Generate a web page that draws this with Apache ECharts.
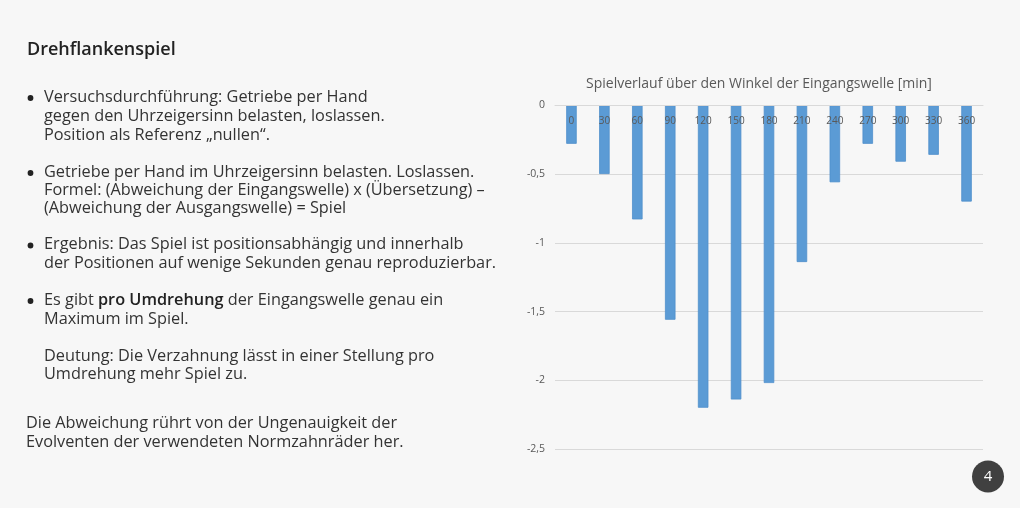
<!DOCTYPE html>
<html>
<head>
<meta charset="utf-8">
<script src="https://cdn.jsdelivr.net/npm/echarts@6/dist/echarts.min.js"></script>
<style>
html,body{margin:0;padding:0;background:#f7f7f7;}
#c{width:1020px;height:508px;}
</style>
</head>
<body>
<div id="c"></div>
<script>
const categories = ['0','30','60','90','120','150','180','210','240','270','300','330','360'];
const spiel = [-0.28, -0.50, -0.83, -1.56, -2.20, -2.14, -2.02, -1.14, -0.56, -0.28, -0.41, -0.36, -0.70];
const yTicks = { min: -2.5, max: 0, interval: 0.5 };
const chartTitle = 'Spielverlauf über den Winkel der Eingangswelle [min]';

const FONT = '"Open Sans", "DejaVu Sans", sans-serif';
const bodyColor = '#333333';
const BODY_SIZE = 16.3;

function line(x, y, text) {
  return {
    type: 'text', x: x, y: y,
    style: { text: text, fill: bodyColor, font: BODY_SIZE + 'px ' + FONT, verticalAlign: 'middle', align: 'left' }
  };
}
function bullet(y) {
  return { type: 'circle', shape: { cx: 30.5, cy: y + 1, r: 2.9 }, style: { fill: '#222' } };
}

const graphics = [
  { type: 'text', x: 27, y: 49.5, style: { text: 'Drehflankenspiel', fill: '#222', font: '600 18px ' + FONT, verticalAlign: 'middle' } },
  bullet(97), line(44, 97, 'Versuchsdurchführung: Getriebe per Hand'),
  line(44, 116, 'gegen den Uhrzeigersinn belasten, loslassen.'),
  line(44, 135, 'Position als Referenz „nullen“.'),
  bullet(172), line(44, 172, 'Getriebe per Hand im Uhrzeigersinn belasten. Loslassen.'),
  line(44, 190, 'Formel: (Abweichung der Eingangswelle) x (Übersetzung) –'),
  line(44, 208.5, '(Abweichung der Ausgangswelle) = Spiel'),
  bullet(244.5), line(44, 244.5, 'Ergebnis: Das Spiel ist positionsabhängig und innerhalb'),
  line(44, 263.5, 'der Positionen auf wenige Sekunden genau reproduzierbar.'),
  bullet(300), {
    type: 'text', x: 44, y: 300,
    style: {
      text: 'Es gibt {b|pro Umdrehung} der Eingangswelle genau ein',
      fill: bodyColor, font: BODY_SIZE + 'px ' + FONT, verticalAlign: 'middle',
      rich: { b: { fontWeight: 600, fontSize: BODY_SIZE, fontFamily: FONT, fill: '#222' } }
    }
  },
  line(44, 319, 'Maximum im Spiel.'),
  line(44, 356, 'Deutung: Die Verzahnung lässt in einer Stellung pro'),
  line(44, 374.5, 'Umdrehung mehr Spiel zu.'),
  line(26, 423.5, 'Die Abweichung rührt von der Ungenauigkeit der'),
  line(26, 442.5, 'Evolventen der verwendeten Normzahnräder her.'),
  { type: 'circle', shape: { cx: 988, cy: 476.5, r: 16 }, style: { fill: '#404040' } },
  { type: 'text', x: 988, y: 476.5, style: { text: '4', fill: '#ffffff', font: '15px ' + FONT, align: 'center', verticalAlign: 'middle' } }
];

const chart = echarts.init(document.getElementById('c'), null, { renderer: 'canvas' });
chart.setOption({
  backgroundColor: '#f7f7f7',
  animation: false,
  title: {
    text: chartTitle, left: 754, top: 72, textAlign: 'center',
    textStyle: { fontFamily: FONT, fontSize: 14, fontWeight: 'normal', color: '#595959' }
  },
  grid: { left: 555, right: 37, top: 105.3, bottom: 59 },
  xAxis: {
    type: 'category', data: categories, position: 'top', z: 5,
    axisLine: { show: true, onZero: false, lineStyle: { color: '#d9d9d9', width: 1 } },
    axisTick: { show: false },
    axisLabel: { inside: true, color: '#595959', fontFamily: FONT, fontSize: 10, margin: 10.5 }
  },
  yAxis: {
    type: 'value', min: yTicks.min, max: yTicks.max, interval: yTicks.interval,
    axisLine: { show: false }, axisTick: { show: false },
    splitLine: { lineStyle: { color: '#d9d9d9', width: 1 } },
    axisLabel: {
      color: '#595959', fontFamily: FONT, fontSize: 10.5, margin: 10,
      formatter: v => String(v).replace('.', ',')
    }
  },
  series: [{
    type: 'bar', data: spiel, barWidth: 10.5,
    itemStyle: { color: '#5b9bd5', borderColor: '#4f8fcc', borderWidth: 0.8 }
  }],
  graphic: graphics
});
</script>
</body>
</html>
